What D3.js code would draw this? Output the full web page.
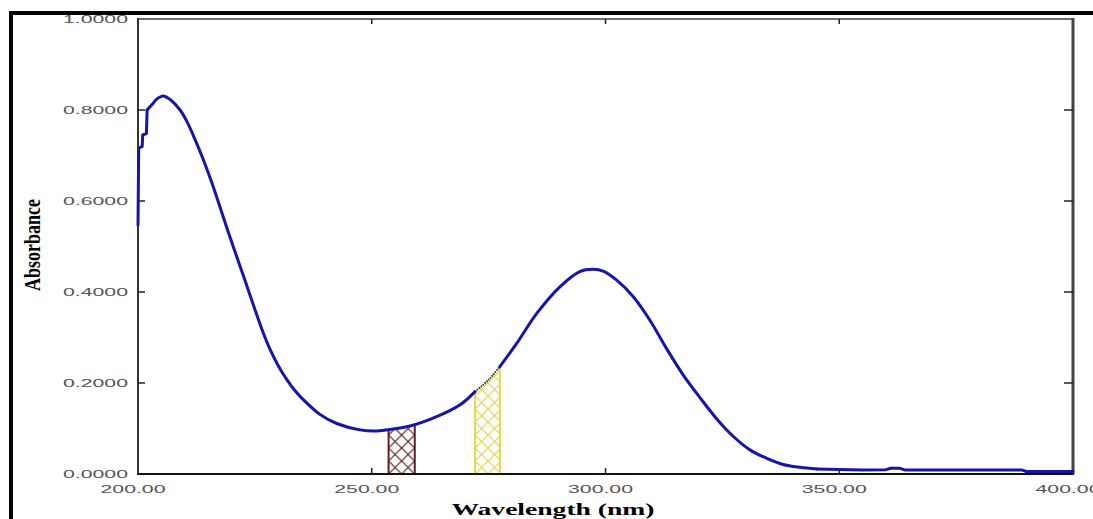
<!DOCTYPE html>
<html>
<head>
<meta charset="utf-8">
<script src="https://cdn.jsdelivr.net/npm/d3@7"></script>
<style>
  html, body { margin: 0; padding: 0; background: #fff; }
  svg { display: block; }
</style>
</head>
<body>
<svg id="chart" width="1093" height="519"></svg>
<script>
// spectrum (nm, absorbance)
const wavelengths = [200.0, 200.15, 200.9, 201.0, 201.8, 201.95, 203.0, 204.0, 205.4, 207.0,
  209.0, 210.5, 211.8, 212.9, 214.0, 215.8, 217.5, 219.3, 220.4, 222.6,
  225.4, 226.8, 228.2, 230.0, 231.8, 233.6, 235.4, 238.9, 242.5, 247.5,
  251.1, 254.6, 258.2, 263.9, 268.9, 272.1, 277.4, 281.0, 285.3, 290.3,
  294.5, 297.4, 299.5, 302.4, 305.9, 309.5, 313.1, 316.6, 320.2, 323.8,
  327.3, 330.9, 334.5, 338.0, 341.6, 345.2, 350.0, 355.0, 360.0, 361.0,
  363.0, 364.0, 389.0, 390.0, 400.0]
const absorbance = [0.547, 0.716, 0.720, 0.745, 0.748, 0.800, 0.812, 0.824, 0.831, 0.822,
  0.800, 0.774, 0.745, 0.718, 0.690, 0.640, 0.588, 0.532, 0.499, 0.434,
  0.350, 0.310, 0.275, 0.238, 0.208, 0.183, 0.163, 0.131, 0.111, 0.097,
  0.0945, 0.099, 0.1055, 0.126, 0.152, 0.181, 0.236, 0.287, 0.353, 0.412,
  0.445, 0.450, 0.446, 0.426, 0.390, 0.338, 0.275, 0.218, 0.168, 0.121,
  0.083, 0.053, 0.0345, 0.021, 0.0147, 0.011, 0.010, 0.009, 0.0095, 0.0125,
  0.0125, 0.009, 0.009, 0.0055, 0.0055]

// hatched bands under the curve
const bandStart = [253.6, 272.1]
const bandEnd = [259.2, 277.4]
const bandColor = ['#5e1f1f', '#e6d44e']

const xTicks = [200, 250, 300, 350, 400]
const yTicks = [0, 0.2, 0.4, 0.6, 0.8, 1.0]

const pLeft = 138, pRight = 1073, pTop = 19, pBottom = 474

const svg = d3.select('#chart')
const x = d3.scaleLinear().domain([200, 400]).range([pLeft, pRight])
const y = d3.scaleLinear().domain([0, 1]).range([pBottom, pTop])

const pts = wavelengths.map((w, i) => ({ w, a: absorbance[i] }))

// linear read of the curve at a wavelength
function absAt(w) {
  const i = d3.bisectRight(wavelengths, w)
  if (i <= 0) return absorbance[0]
  if (i >= wavelengths.length) return absorbance[absorbance.length - 1]
  const t = (w - wavelengths[i - 1]) / (wavelengths[i] - wavelengths[i - 1])
  return absorbance[i - 1] + t * (absorbance[i] - absorbance[i - 1])
}

// frame
svg.append('rect').attr('x', 9).attr('y', 11).attr('width', 1084).attr('height', 4).attr('fill', '#000')
svg.append('rect').attr('x', 9).attr('y', 11).attr('width', 4).attr('height', 508).attr('fill', '#000')

// patterns
const defs = svg.append('defs')
bandColor.forEach((c, i) => {
  const p = defs.append('pattern')
    .attr('id', 'hatch' + i)
    .attr('patternUnits', 'userSpaceOnUse')
    .attr('width', 13).attr('height', 13)
    .attr('patternTransform', `translate(${x(bandStart[i])},${pBottom})`)
  p.append('path').attr('d', 'M0,0L13,13M13,0L0,13').attr('stroke', c).attr('stroke-width', 1.2).attr('fill', 'none')
})

const area = d3.area().x(d => x(d.w)).y0(pBottom).y1(d => y(d.a))
bandStart.forEach((s, i) => {
  const e = bandEnd[i]
  const seg = [{ w: s, a: absAt(s) }]
    .concat(pts.filter(d => d.w > s && d.w < e))
    .concat([{ w: e, a: absAt(e) }])
  svg.append('path').datum(seg).attr('d', area).attr('fill', `url(#hatch${i})`)
  ;[s, e].forEach(w => {
    svg.append('line')
      .attr('x1', x(w)).attr('x2', x(w))
      .attr('y1', pBottom).attr('y2', y(absAt(w)))
      .attr('stroke', bandColor[i]).attr('stroke-width', 2)
  })
})

// axes box
svg.append('line').attr('x1', pLeft).attr('x2', pRight).attr('y1', pTop).attr('y2', pTop).attr('stroke', '#6e6e6e').attr('stroke-width', 2)
svg.append('line').attr('x1', pRight).attr('x2', pRight).attr('y1', pTop - 1).attr('y2', pBottom).attr('stroke', '#444').attr('stroke-width', 3)
svg.append('line').attr('x1', pLeft).attr('x2', pLeft).attr('y1', pTop - 1).attr('y2', pBottom).attr('stroke', '#333').attr('stroke-width', 2)
svg.append('line').attr('x1', pLeft - 1).attr('x2', pRight + 1).attr('y1', pBottom).attr('y2', pBottom).attr('stroke', '#111').attr('stroke-width', 2)

// ticks (inward)
const tickG = svg.append('g').attr('stroke', '#222').attr('stroke-width', 1.5)
yTicks.slice(1, -1).forEach(t => {
  tickG.append('line').attr('x1', pLeft).attr('x2', pLeft + 7).attr('y1', y(t)).attr('y2', y(t))
  tickG.append('line').attr('x1', pRight).attr('x2', pRight - 9).attr('y1', y(t)).attr('y2', y(t))
})
xTicks.slice(1, -1).forEach(t => {
  tickG.append('line').attr('x1', x(t)).attr('x2', x(t)).attr('y1', pBottom).attr('y2', pBottom - 6)
  tickG.append('line').attr('x1', x(t)).attr('x2', x(t)).attr('y1', pTop).attr('y2', pTop + 5)
})

// tick labels
const lab = svg.append('g')
  .attr('font-family', 'Liberation Sans, Arial, sans-serif')
  .attr('font-size', 11).attr('fill', '#555')
yTicks.forEach(t => {
  lab.append('text')
    .attr('x', 128).attr('y', y(t) + 4)
    .attr('text-anchor', 'end')
    .attr('textLength', 65).attr('lengthAdjust', 'spacingAndGlyphs')
    .text(t.toFixed(4))
})
xTicks.forEach(t => {
  lab.append('text')
    .attr('x', x(t) - 5).attr('y', 493)
    .attr('text-anchor', 'middle')
    .attr('textLength', 65).attr('lengthAdjust', 'spacingAndGlyphs')
    .text(t.toFixed(2))
})

// the spectrum: steppy start and flat tail drawn straight, the rest smooth,
// with a gap over the yellow band where it is drawn dotted
const smooth = d3.curveCatmullRom.alpha(0.5)
const pieces = [
  [200, 201.95, d3.curveLinear],
  [201.95, bandStart[1], smooth],
  [bandEnd[1], 345.2, smooth],
  [345.2, 400, d3.curveLinear]
]
pieces.forEach(([a, b, c]) => {
  const seg = pts.filter(d => d.w >= a && d.w <= b)
  const line = d3.line().x(d => x(d.w)).y(d => y(d.a)).curve(c)
  svg.append('path').datum(seg).attr('d', line)
    .attr('fill', 'none').attr('stroke', '#1515ab').attr('stroke-width', 3)
    .attr('stroke-linejoin', 'round').attr('stroke-linecap', 'round')
})
svg.append('path')
  .datum([{ w: bandStart[1], a: absAt(bandStart[1]) }, { w: 275, a: absAt(275) - 0.004 }, { w: bandEnd[1], a: absAt(bandEnd[1]) }])
  .attr('d', d3.line().x(d => x(d.w)).y(d => y(d.a)).curve(smooth)).attr('fill', 'none')
  .attr('stroke', '#333').attr('stroke-width', 2).attr('stroke-dasharray', '1.5,1')

// axis titles
svg.append('text')
  .attr('transform', 'translate(40,245) rotate(-90)')
  .attr('text-anchor', 'middle')
  .attr('font-family', 'Liberation Serif, Times New Roman, serif')
  .attr('font-weight', 'bold').attr('font-size', 24)
  .attr('textLength', 92).attr('lengthAdjust', 'spacingAndGlyphs')
  .text('Absorbance')
svg.append('text')
  .attr('x', 553).attr('y', 515)
  .attr('text-anchor', 'middle')
  .attr('font-family', 'Liberation Serif, Times New Roman, serif')
  .attr('font-weight', 'bold').attr('font-size', 17)
  .attr('textLength', 203).attr('lengthAdjust', 'spacingAndGlyphs')
  .text('Wavelength (nm)')
</script>
</body>
</html>
